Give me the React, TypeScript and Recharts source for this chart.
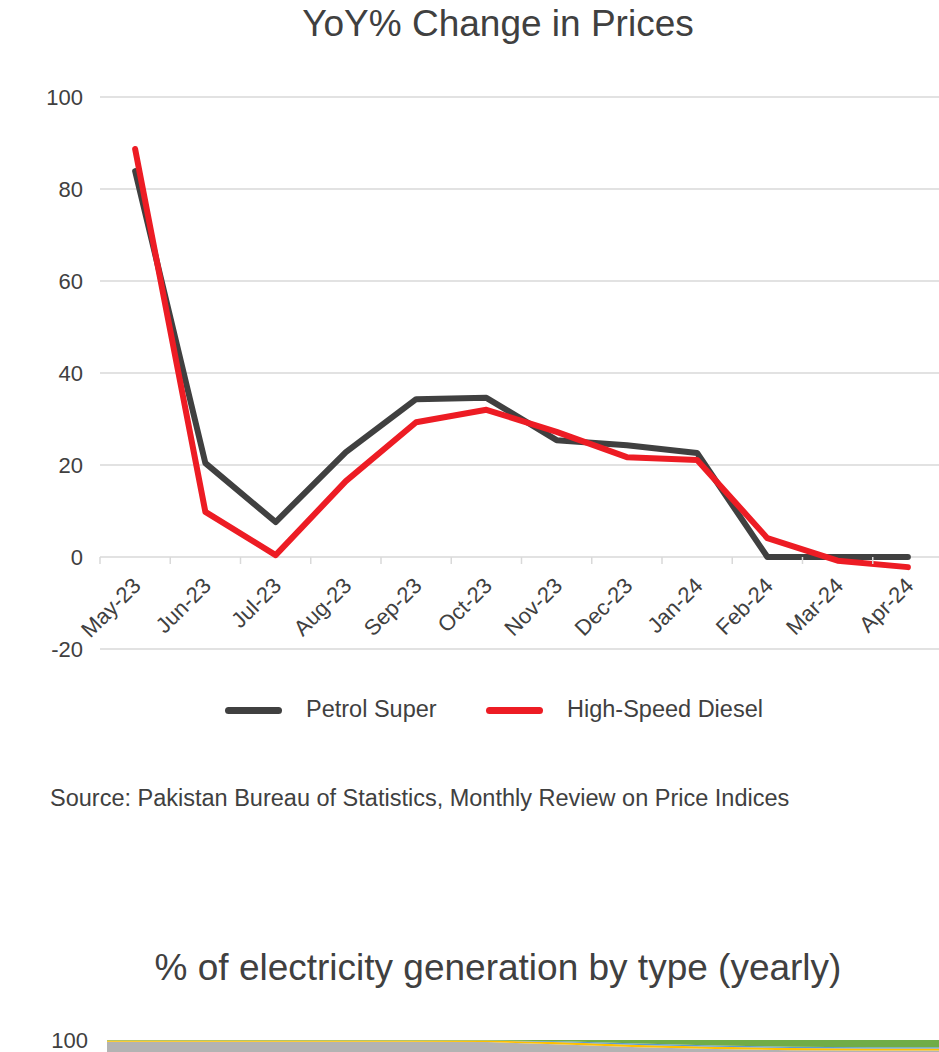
import React from 'react'
import {
  LineChart,
  Line,
  XAxis,
  YAxis,
  CartesianGrid,
  AreaChart,
  Area,
} from 'recharts'

const months = ['May-23', 'Jun-23', 'Jul-23', 'Aug-23', 'Sep-23', 'Oct-23', 'Nov-23', 'Dec-23', 'Jan-24', 'Feb-24', 'Mar-24', 'Apr-24']
const petrolSuper = [83.9, 20.4, 7.6, 22.8, 34.3, 34.6, 25.4, 24.3, 22.6, 0, 0, 0]
const highSpeedDiesel = [88.7, 9.8, 0.4, 16.5, 29.3, 32.0, 27.2, 21.7, 21.1, 4.1, -0.8, -2.2]
const priceTicks = [-20, 0, 20, 40, 60, 80, 100]

const genYears = ['2013', '2014', '2015', '2016', '2017', '2018', '2019', '2020', '2021', '2022', '2023', '2024']
const genGreen = [0.1, 0.1, 0.1, 0.1, 0.1, 0.1, 0.3, 0.8, 1.2, 1.5, 1.6, 1.6]
const genBlue = [0, 0, 0, 0, 0, 0, 0.2, 0.3, 0.3, 0.3, 0.3, 0.3]
const genYellow = [0.3, 0.3, 0.3, 0.3, 0.3, 0.35, 0.5, 0.5, 0.5, 0.5, 0.45, 0.45]
const genTicks = [0, 20, 40, 60, 80, 100]

const priceData = months.map((m, i) => ({ month: m, petrol: petrolSuper[i], diesel: highSpeedDiesel[i] }))
const genData = genYears.map((y, i) => ({
  year: y,
  other: +(100 - genGreen[i] - genBlue[i] - genYellow[i]).toFixed(2),
  yellow: genYellow[i],
  blue: genBlue[i],
  green: genGreen[i],
}))

const FONT = '"Liberation Sans", Arial, sans-serif'
const TEXT = '#404040'
const GRID = '#d9d9d9'
const PETROL = '#404040'
const DIESEL = '#ED1C24'

// line chart geometry
const MT = 97
const PLOT_H = 552
const ZERO_Y = MT + (PLOT_H * 100) / 120
const BAND = 843 / 12

function MonthTick(props: any) {
  const { x, payload, index } = props
  const tx = x + 7
  const ty = ZERO_Y + 30
  return (
    <g>
      <line x1={x - BAND / 2} x2={x - BAND / 2} y1={ZERO_Y} y2={ZERO_Y + 7} stroke={GRID} strokeWidth={1.5} />
      {index === months.length - 1 && (
        <line x1={x + BAND / 2} x2={x + BAND / 2} y1={ZERO_Y} y2={ZERO_Y + 7} stroke={GRID} strokeWidth={1.5} />
      )}
      <text
        x={tx}
        y={ty}
        transform={`rotate(-45, ${tx}, ${ty})`}
        textAnchor="end"
        fontSize={22}
        fontFamily={FONT}
        fill={TEXT}
      >
        {payload.value}
      </text>
    </g>
  )
}

const legendItems = [
  { name: 'Petrol Super', color: PETROL, line: 225, text: 306 },
  { name: 'High-Speed Diesel', color: DIESEL, line: 486, text: 567 },
]

export default function App() {
  return (
    <div style={{ position: 'fixed', left: 0, top: 0, width: 939, height: 1052, overflow: 'hidden', background: '#fff' }}>
      <div
        style={{
          position: 'absolute',
          left: 0,
          top: 3,
          width: 996,
          textAlign: 'center',
          fontSize: 37,
          fontFamily: FONT,
          color: TEXT,
        }}
      >
        YoY% Change in Prices
      </div>

      <div style={{ position: 'absolute', left: 0, top: 0 }}>
        <LineChart width={960} height={700} data={priceData} margin={{ top: MT, right: 17, left: 0, bottom: 21 }}>
          <CartesianGrid vertical={false} stroke={GRID} strokeWidth={1.5} />
          <XAxis
            dataKey="month"
            height={30}
            axisLine={false}
            tickLine={false}
            tick={<MonthTick />}
            interval={0}
            padding={{ left: BAND / 2, right: BAND / 2 }}
          />
          <YAxis
            width={100}
            domain={[-20, 100]}
            ticks={priceTicks}
            axisLine={false}
            tickLine={false}
            tickSize={0}
            tickMargin={17}
            tick={{ fontSize: 22, fontFamily: FONT, fill: TEXT }}
          />
          <Line
            type="linear"
            dataKey="petrol"
            name="Petrol Super"
            stroke={PETROL}
            strokeWidth={6}
            strokeLinecap="round"
            strokeLinejoin="round"
            dot={false}
            isAnimationActive={false}
          />
          <Line
            type="linear"
            dataKey="diesel"
            name="High-Speed Diesel"
            stroke={DIESEL}
            strokeWidth={6}
            strokeLinecap="round"
            strokeLinejoin="round"
            dot={false}
            isAnimationActive={false}
          />
        </LineChart>
      </div>

      {legendItems.map((it) => (
        <React.Fragment key={it.name}>
          <div
            style={{
              position: 'absolute',
              left: it.line,
              top: 707,
              width: 57,
              height: 7,
              borderRadius: 4,
              background: it.color,
            }}
          />
          <div
            style={{
              position: 'absolute',
              left: it.text,
              top: 696,
              fontSize: 23.5,
              fontFamily: FONT,
              color: TEXT,
              whiteSpace: 'nowrap',
            }}
          >
            {it.name}
          </div>
        </React.Fragment>
      ))}

      <div
        style={{
          position: 'absolute',
          left: 50,
          top: 785,
          fontSize: 23.5,
          fontFamily: FONT,
          color: TEXT,
          whiteSpace: 'nowrap',
        }}
      >
        Source: Pakistan Bureau of Statistics, Monthly Review on Price Indices
      </div>

      <div
        style={{
          position: 'absolute',
          left: 0,
          top: 947,
          width: 996,
          textAlign: 'center',
          fontSize: 37,
          fontFamily: FONT,
          color: TEXT,
        }}
      >
        % of electricity generation by type (yearly)
      </div>

      <div style={{ position: 'absolute', left: 0, top: 1020 }}>
        <AreaChart width={960} height={500} data={genData} margin={{ top: 20, right: 17, left: 0, bottom: 20 }}>
          <XAxis dataKey="year" axisLine={false} tickLine={false} tick={false} height={10} />
          <YAxis
            width={107}
            domain={[0, 100]}
            ticks={genTicks}
            axisLine={false}
            tickLine={false}
            tickSize={0}
            tickMargin={19}
            tick={{ fontSize: 22, fontFamily: FONT, fill: TEXT }}
          />
          <Area type="linear" dataKey="other" stackId="g" stroke="none" fill="#b3b3b3" fillOpacity={1} isAnimationActive={false} />
          <Area type="linear" dataKey="yellow" stackId="g" stroke="none" fill="#FFC000" fillOpacity={1} isAnimationActive={false} />
          <Area type="linear" dataKey="blue" stackId="g" stroke="none" fill="#5B9BD5" fillOpacity={1} isAnimationActive={false} />
          <Area type="linear" dataKey="green" stackId="g" stroke="none" fill="#70AD47" fillOpacity={1} isAnimationActive={false} />
        </AreaChart>
      </div>
    </div>
  )
}
